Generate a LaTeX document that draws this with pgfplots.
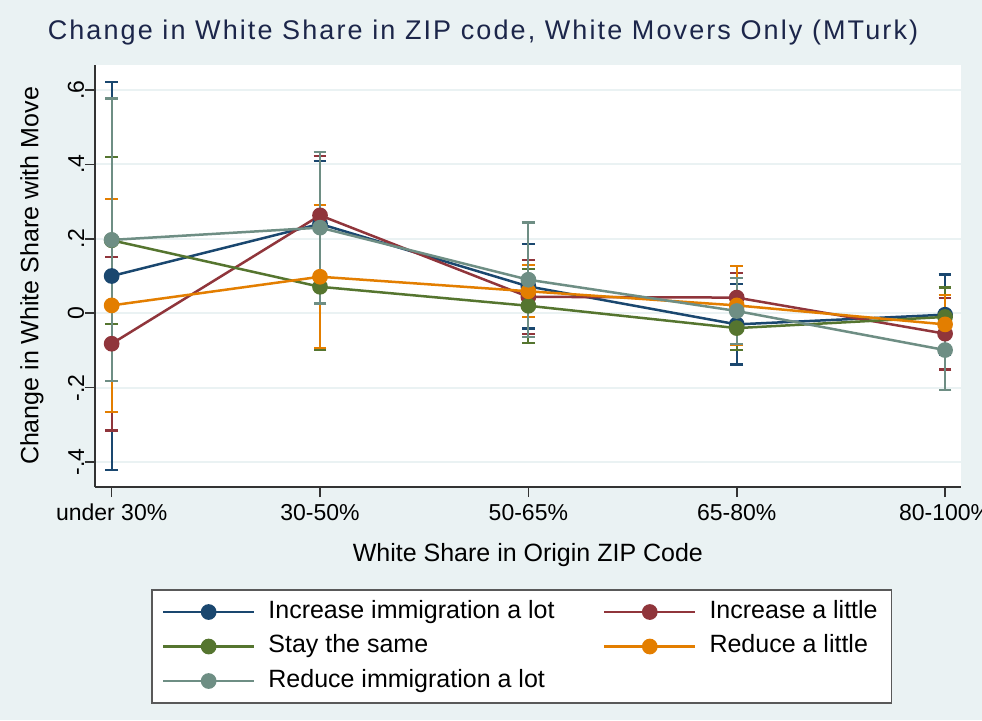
\documentclass[border=0pt]{standalone}
\usepackage{fontspec}
\setmainfont{Liberation Sans}
\newfontfamily\titlefont{Liberation Sans}[LetterSpace=7.8]
\usepackage{pgfplots}
\usepackage{pgfplotstable}
\pgfplotsset{compat=1.18}

\definecolor{stnavy}{RGB}{26,71,111}
\definecolor{stmaroon}{RGB}{144,53,59}
\definecolor{stgreen}{RGB}{85,117,47}
\definecolor{storange}{RGB}{227,126,0}
\definecolor{stteal}{RGB}{110,142,132}
\definecolor{stbg}{RGB}{234,242,243}
\definecolor{sttitle}{RGB}{28,38,74}

% x = origin ZIP category (1 = under 30% ... 5 = 80-100%)
% y = mean change, e = half width of the confidence interval
\pgfplotstableread{
x y e
1 0.100 0.522
2 0.240 0.169
3 0.072 0.113
4 -0.030 0.108
5 -0.004 0.108
}\incrlot
\pgfplotstableread{
x y e
1 -0.082 0.233
2 0.263 0.160
3 0.044 0.100
4 0.042 0.066
5 -0.055 0.096
}\incrlittle
\pgfplotstableread{
x y e
1 0.196 0.224
2 0.071 0.169
3 0.020 0.099
4 -0.040 0.058
5 -0.010 0.079
}\same
\pgfplotstableread{
x y e
1 0.021 0.287
2 0.098 0.192
3 0.059 0.070
4 0.021 0.106
5 -0.030 0.078
}\redlittle
\pgfplotstableread{
x y e
1 0.197 0.380
2 0.230 0.204
3 0.090 0.154
4 0.006 0.089
5 -0.099 0.108
}\redlot

\pgfplotsset{
  cibar/.style={forget plot, only marks, mark=none, color=#1,
    error bars/.cd, y dir=both, y explicit,
    error bar style={line width=1.1pt, color=#1},
    error mark options={rotate=90, mark size=3.2pt, line width=1.1pt, color=#1}},
  mline/.style={color=#1, line width=1.25pt, mark=*, mark size=3.3pt,
    mark options={solid, fill=#1, draw=#1}},
}

\begin{document}
\begin{tikzpicture}
\fill[stbg] (0,0) rectangle (491pt,360pt);
\useasboundingbox (0,0) rectangle (491pt,360pt);
\node[anchor=base, text=sttitle, font=\titlefont\fontsize{13.5}{16}\selectfont]
  at (241.5pt,340.3pt) {Change in White Share in ZIP code, White Movers Only (MTurk)};
\begin{axis}[
  at={(47.5pt,116.5pt)}, anchor=south west,
  scale only axis, width=432.85pt, height=211pt,
  xmin=0.92, xmax=5.075, ymin=-0.467, ymax=0.667,
  axis lines=left, axis line style={-, line width=0.8pt, black!80},
  axis background/.style={fill=white},
  tick align=outside, major tick length=5pt,
  tick style={line width=0.8pt, black!80},
  xtick={1,2,3,4,5},
  xticklabels={under 30\%, 30-50\%, 50-65\%, 65-80\%, 80-100\%},
  ytick={-0.4,-0.2,0,0.2,0.4,0.6},
  yticklabels={-.4,-.2,0,.2,.4,.6},
  ymajorgrids, grid style={stbg, line width=1pt},
  ticklabel style={font=\fontsize{11.5}{13}\selectfont},
  yticklabel style={rotate=90, anchor=south, inner sep=0.2pt},
  xlabel={White Share in Origin ZIP Code},
  ylabel={Change in White Share with Move},
  label style={font=\fontsize{12.5}{15}\selectfont},
  xlabel style={at={(axis description cs:0.5,-0.177)}, anchor=base},
  ylabel style={at={(axis description cs:-0.073,0.5)}, anchor=center, rotate=0},
  legend columns=2,
  legend cell align=left,
  legend image code/.code={
    \draw[mark repeat=2, mark phase=2, #1] plot coordinates {(0pt,0pt) (22.75pt,0pt) (45.5pt,0pt)};},
  legend style={at={(0.493,-0.378)}, anchor=center, fill=white,
    draw=black!65, line width=0.75pt, inner sep=5pt, row sep=5.25pt,
    font=\fontsize{12.5}{14}\selectfont,
    nodes={text height=9pt, text depth=3pt, inner ysep=0pt},
    /tikz/every odd column/.append style={column sep=4.5pt},
    /tikz/every even column/.append style={column sep=22.2pt}},
]
\addplot[cibar=stnavy] table[x=x, y=y, y error=e] {\incrlot};
\addplot[cibar=stmaroon] table[x=x, y=y, y error=e] {\incrlittle};
\addplot[cibar=stgreen] table[x=x, y=y, y error=e] {\same};
\addplot[cibar=storange] table[x=x, y=y, y error=e] {\redlittle};
\addplot[cibar=stteal] table[x=x, y=y, y error=e] {\redlot};

\addplot[mline=stnavy] table[x=x, y=y] {\incrlot};
\addlegendentry{Increase immigration a lot}
\addplot[mline=stmaroon] table[x=x, y=y] {\incrlittle};
\addlegendentry{Increase a little}
\addplot[mline=stgreen] table[x=x, y=y] {\same};
\addlegendentry{Stay the same}
\addplot[mline=storange] table[x=x, y=y] {\redlittle};
\addlegendentry{Reduce a little}
\addplot[mline=stteal] table[x=x, y=y] {\redlot};
\addlegendentry{Reduce immigration a lot}
\end{axis}
\end{tikzpicture}
\end{document}
